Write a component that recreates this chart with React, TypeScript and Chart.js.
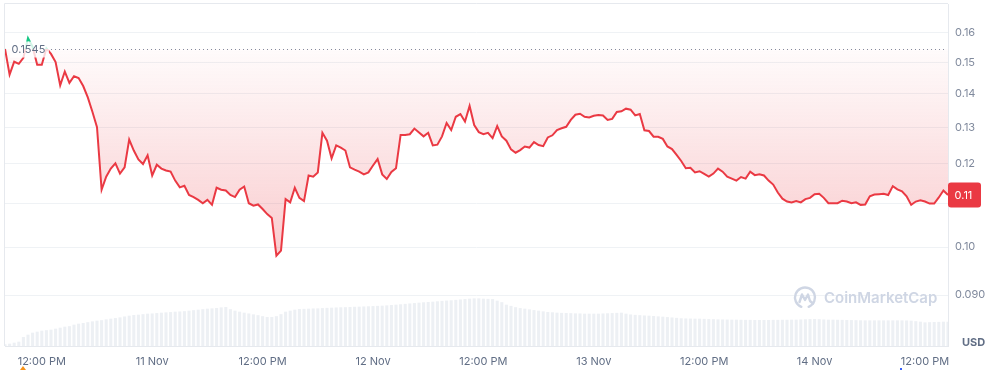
import React, { useEffect, useRef } from "react";
import { Chart, registerables } from "chart.js";

Chart.register(...registerables);

// Time axis: hours since 10 Nov 00:00, one sample every 30 minutes starting 10 Nov 08:00
const START_HOUR = 8;
const STEP_HOURS = 0.5;

const prices: number[] = [
  0.1545, 0.146, 0.1502, 0.1495, 0.1515, 0.1582, 0.1552, 0.1492, 0.1492, 0.1547,
  0.1528, 0.1501, 0.1426, 0.147, 0.1434, 0.1455, 0.1449, 0.1424, 0.1389, 0.1346,
  0.1301, 0.1134, 0.1167, 0.1188, 0.1202, 0.1175, 0.1191, 0.1266, 0.1236, 0.1212,
  0.12, 0.1223, 0.117, 0.1198, 0.1188, 0.1183, 0.118, 0.1157, 0.114, 0.1144,
  0.1121, 0.1116, 0.1109, 0.1101, 0.1109, 0.1097, 0.1139, 0.1134, 0.1132, 0.1121,
  0.1116, 0.1134, 0.1142, 0.1101, 0.1095, 0.1098, 0.1087, 0.1075, 0.1066, 0.0981,
  0.0992, 0.1111, 0.1103, 0.1139, 0.1114, 0.1106, 0.117, 0.1167, 0.1178, 0.1285,
  0.1263, 0.1215, 0.125, 0.1244, 0.1236, 0.1191, 0.1185, 0.118, 0.1173, 0.1178,
  0.1196, 0.1213, 0.1173, 0.1161, 0.1179, 0.1189, 0.1279, 0.1279, 0.1281, 0.1297,
  0.1286, 0.1275, 0.1285, 0.125, 0.1252, 0.1275, 0.1313, 0.1293, 0.1331, 0.1339,
  0.1317, 0.1363, 0.1307, 0.1287, 0.1281, 0.1285, 0.127, 0.1304, 0.1275, 0.1263,
  0.1239, 0.123, 0.1237, 0.1247, 0.1244, 0.1259, 0.1251, 0.1248, 0.1272, 0.1278,
  0.1293, 0.1298, 0.1302, 0.1322, 0.1337, 0.134, 0.1331, 0.1329, 0.1334, 0.1336,
  0.1335, 0.1322, 0.1325, 0.1345, 0.1347, 0.1355, 0.1352, 0.1335, 0.1339, 0.1292,
  0.129, 0.1274, 0.1274, 0.1268, 0.1247, 0.124, 0.1224, 0.1208, 0.1189, 0.119,
  0.1178, 0.1181, 0.1174, 0.1167, 0.1175, 0.1188, 0.118, 0.1167, 0.1162, 0.1157,
  0.1166, 0.1162, 0.118, 0.1171, 0.1173, 0.117, 0.1157, 0.1147, 0.1127, 0.1112,
  0.1105, 0.1103, 0.1106, 0.1103, 0.1111, 0.1114, 0.1123, 0.1124, 0.1114, 0.1101,
  0.1101, 0.1101, 0.1107, 0.1105, 0.1101, 0.1103, 0.1097, 0.1098, 0.1118, 0.1122,
  0.1123, 0.1124, 0.1121, 0.1143, 0.1135, 0.113, 0.1118, 0.1097, 0.1105, 0.1108,
  0.1105, 0.11, 0.11, 0.1115, 0.1132, 0.1121,
];

// Trading volume (arbitrary units, x100k USD)
const volumes: number[] = [
  1.5, 2, 3, 4, 8.7, 11, 13, 14, 15, 15.5,
  16, 17, 18, 19, 19.5, 21, 22, 22.7, 23.5, 24.3,
  25, 25.5, 26.3, 27, 27.6, 28.3, 29.2, 30, 30.7, 31,
  31.5, 32, 32.2, 32.6, 33, 33.3, 33.6, 34, 34.2, 34.5,
  35, 35.5, 36, 36.5, 37, 37.3, 37.7, 38.3, 38.7, 36.5,
  35, 34, 33, 32.2, 31.3, 30.5, 29.5, 28.7, 28.7, 29.5,
  31.5, 34, 35, 36, 36.7, 36.8, 37, 37.2, 37.3, 37.6,
  37.8, 38, 38.2, 38.4, 38.5, 38.7, 38.9, 39, 39.2, 39.4,
  39.6, 39.8, 40, 40.3, 40.7, 41, 41.4, 41.8, 42.2, 42.6,
  43, 43.4, 43.7, 44, 44.4, 44.8, 45.1, 45.4, 45.8, 46.2,
  46.6, 47, 47.3, 47.3, 47, 46.8, 46.6, 45, 43.5, 41,
  39.8, 38.5, 37.6, 37, 36.3, 35.6, 35, 34.3, 33.7, 33.4,
  33, 32.8, 32.7, 32.5, 32.3, 32.2, 32, 32, 32, 32,
  32.2, 32.4, 32.6, 32.8, 33, 32, 31.2, 30.8, 30.5, 30.2,
  30, 29.7, 29.3, 29, 28.6, 28.2, 27.8, 27.4, 27.2, 27.1,
  27, 27, 26.8, 26.6, 26.5, 26.3, 26.2, 26.1, 26, 26,
  25.9, 25.8, 25.8, 25.7, 25.7, 25.7, 25.7, 25.8, 25.8, 25.9,
  25.9, 26, 26, 26.2, 26.4, 26.6, 26.7, 26.5, 26.2, 26,
  26, 25.9, 25.8, 25.7, 25.6, 25.5, 25.4, 25.3, 25.3, 25.3,
  25.3, 25.3, 25.3, 25.3, 25.3, 25.3, 25.2, 25, 24.5, 24,
  23.3, 23.5, 23.7, 23.8, 24, 24,
];

const BASELINE = 0.1545;
const BASELINE_LABEL = "0.1545";
const LAST_PRICE_LABEL = "0.11";

const xTickHours = [12, 24, 36, 48, 60, 72, 84, 96, 108];
const xTickLabels = [
  "12:00 PM", "11 Nov", "12:00 PM", "12 Nov", "12:00 PM",
  "13 Nov", "12:00 PM", "14 Nov", "12:00 PM",
];
const yTickValues = [0.09, 0.1, 0.11, 0.12, 0.13, 0.14, 0.15, 0.16];
const yTickLabels = ["0.090", "0.10", "0.11", "0.12", "0.13", "0.14", "0.15", "0.16"];

const hours = prices.map((_, i) => START_HOUR + i * STEP_HOURS);

const RED = "#ea3943";
const GREEN = "#16c784";
const GRID = "#eff2f5";
const BORDER = "#e6e9ee";
const TEXT = "#616e85";
const FONT = "Inter";

const overlayPlugin = {
  id: "cmcOverlay",
  beforeDatasetsDraw(chart: any) {
    const { ctx, chartArea: a } = chart;
    ctx.save();
    // watermark logo + text
    const cx = a.right - 143;
    const cy = a.bottom - 48.5;
    ctx.strokeStyle = "#cfd6e4";
    ctx.lineWidth = 2.4;
    ctx.lineCap = "round";
    ctx.lineJoin = "round";
    ctx.beginPath();
    ctx.arc(cx, cy, 10, Math.PI * 0.62, Math.PI * 2.38);
    ctx.stroke();
    ctx.beginPath();
    ctx.moveTo(cx - 5.5, cy + 4.5);
    ctx.lineTo(cx - 3, cy - 3);
    ctx.lineTo(cx, cy + 2.5);
    ctx.lineTo(cx + 3, cy - 3);
    ctx.lineTo(cx + 5, cy + 3.5);
    ctx.lineTo(cx + 8, cy + 6);
    ctx.stroke();
    ctx.fillStyle = "#cfd6e4";
    ctx.font = `600 15px ${FONT}`;
    ctx.textBaseline = "middle";
    ctx.textAlign = "left";
    ctx.fillText("CoinMarketCap", cx + 19, cy + 1);
    ctx.restore();
  },
  afterDatasetsDraw(chart: any) {
    const { ctx, chartArea: a, scales } = chart;
    const y = scales.y;
    ctx.save();
    // frame top & left
    ctx.strokeStyle = BORDER;
    ctx.lineWidth = 1;
    ctx.beginPath();
    ctx.moveTo(a.left - 0.5, a.bottom);
    ctx.lineTo(a.left - 0.5, a.top - 0.5);
    ctx.lineTo(a.right, a.top - 0.5);
    ctx.stroke();

    // baseline dotted line
    const by = Math.round(y.getPixelForValue(BASELINE)) + 0.5;
    ctx.strokeStyle = "rgba(88,102,126,0.75)";
    ctx.setLineDash([1, 3]);
    ctx.beginPath();
    ctx.moveTo(a.left + 46, by);
    ctx.lineTo(a.right - 2, by);
    ctx.stroke();
    ctx.setLineDash([]);

    // baseline label
    ctx.fillStyle = "rgba(255,255,255,0.8)";
    ctx.fillRect(a.left + 5, by - 8, 39, 16);
    ctx.fillStyle = TEXT;
    ctx.font = `11px ${FONT}`;
    ctx.textBaseline = "middle";
    ctx.textAlign = "left";
    ctx.fillText(BASELINE_LABEL, a.left + 6.5, by);

    // last price box
    const ly = y.getPixelForValue(prices[prices.length - 1]);
    ctx.fillStyle = RED;
    ctx.beginPath();
    (ctx as any).roundRect(a.right, ly - 12.5, 33, 25, 3);
    ctx.fill();
    ctx.fillStyle = "#ffffff";
    ctx.font = `11px ${FONT}`;
    ctx.fillText(LAST_PRICE_LABEL, a.right + 6.5, ly + 0.5);

    // currency
    ctx.fillStyle = TEXT;
    ctx.font = `bold 11px ${FONT}`;
    ctx.fillText("USD", a.right + 14, a.bottom - 3);

    // event markers
    ctx.fillStyle = "#f7931a";
    ctx.beginPath();
    ctx.moveTo(23, 366);
    ctx.lineTo(26, 370);
    ctx.lineTo(20, 370);
    ctx.fill();
    ctx.fillStyle = "#3861fb";
    ctx.fillRect(900, 368, 2, 2);
    ctx.restore();
  },
};

export default function App() {
  const ref = useRef<HTMLCanvasElement | null>(null);

  useEffect(() => {
    if (!ref.current) return;
    Chart.defaults.font.family = FONT;
    const chart = new Chart(ref.current, {
      type: "line",
      data: {
        datasets: [
          {
            type: "line",
            data: hours.map((h, i) => ({ x: h, y: prices[i] })),
            yAxisID: "y",
            borderWidth: 2,
            pointRadius: 0,
            tension: 0,
            order: 1,
            borderColor: (c: any) => {
              const chart = c.chart;
              const a = chart.chartArea;
              if (!a) return RED;
              const y0 = chart.scales.y.getPixelForValue(BASELINE);
              const t = Math.min(1, Math.max(0, (y0 - a.top) / (a.bottom - a.top)));
              const g = chart.ctx.createLinearGradient(0, a.top, 0, a.bottom);
              g.addColorStop(0, GREEN);
              g.addColorStop(t, GREEN);
              g.addColorStop(t, RED);
              g.addColorStop(1, RED);
              return g;
            },
            backgroundColor: (c: any) => {
              const chart = c.chart;
              const a = chart.chartArea;
              if (!a) return "rgba(234,57,67,0.1)";
              const y0 = chart.scales.y.getPixelForValue(BASELINE);
              const g = chart.ctx.createLinearGradient(0, y0, 0, a.bottom);
              g.addColorStop(0, "rgba(234,57,67,0.02)");
              g.addColorStop(1, "rgba(234,57,67,0.36)");
              return g;
            },
            fill: {
              target: { value: BASELINE },
              above: "rgba(22,199,132,0.12)",
            },
          } as any,
          {
            type: "bar",
            data: hours.map((h, i) => ({ x: h, y: volumes[i] })),
            yAxisID: "yv",
            backgroundColor: "#edf0f4",
            barThickness: 2.4,
            order: 2,
          } as any,
        ],
      },
      options: {
        responsive: false,
        animation: false,
        devicePixelRatio: 1,
        layout: { padding: { left: 5, top: 4, right: 0, bottom: 0 } },
        plugins: {
          legend: { display: false },
          tooltip: { enabled: false },
        },
        scales: {
          x: {
            type: "linear",
            min: START_HOUR,
            max: START_HOUR + (prices.length - 1) * STEP_HOURS,
            offset: false,
            afterBuildTicks: (s: any) => {
              s.ticks = xTickHours.map((v) => ({ value: v }));
            },
            afterFit: (s: any) => {
              s.height = 24;
              s.paddingLeft = 0;
              s.paddingRight = 0;
            },
            grid: { display: false, drawTicks: false },
            border: { display: true, color: BORDER },
            ticks: {
              autoSkip: false,
              maxRotation: 0,
              padding: 9,
              color: TEXT,
              font: { size: 11, family: FONT },
              callback: (_v: any, i: number) => xTickLabels[i],
            },
          },
          y: {
            type: "logarithmic",
            position: "right",
            min: 0.08047,
            max: 0.1705,
            afterBuildTicks: (s: any) => {
              s.ticks = yTickValues.map((v) => ({ value: v }));
            },
            afterFit: (s: any) => {
              s.width = 50;
              s.paddingTop = 0;
              s.paddingBottom = 0;
            },
            grid: { color: GRID, drawTicks: false },
            border: { display: true, color: BORDER },
            ticks: {
              autoSkip: false,
              padding: 7,
              color: "#808a9d",
              font: { size: 11, family: FONT },
              callback: (_v: any, i: number) => yTickLabels[i],
            },
          },
          yv: {
            type: "linear",
            display: false,
            min: 0,
            max: 342,
          },
        },
      } as any,
      plugins: [overlayPlugin],
    });
    return () => chart.destroy();
  }, []);

  return (
    <div style={{ position: "fixed", left: 0, top: 0, width: 998, height: 370, background: "#fff" }}>
      <canvas ref={ref} width={998} height={370} style={{ display: "block" }} />
    </div>
  );
}
